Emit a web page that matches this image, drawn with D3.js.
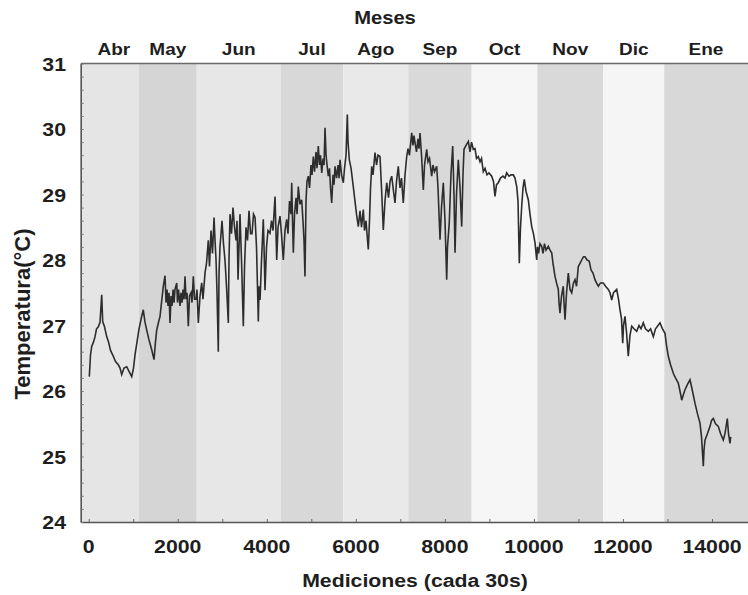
<!DOCTYPE html>
<html>
<head>
<meta charset="utf-8">
<script src="https://cdn.jsdelivr.net/npm/d3@7"></script>
<style>
  html, body { margin: 0; padding: 0; background: #fff; }
  svg { display: block; }
  text { font-family: "Liberation Sans", Arial, sans-serif; font-weight: bold; fill: #1e1e1e; }
</style>
</head>
<body>
<svg id="chart" width="748" height="595"></svg>
<script>
// Month bands (start index of each month, last value closes Ene)
const meses = ["Abr", "May", "Jun", "Jul", "Ago", "Sep", "Oct", "Nov", "Dic", "Ene"];
const limitesMes = [0, 1130, 2426, 4313, 5719, 7179, 8603, 10076, 11559, 12929, 14800];
const coloresMes = ["#e5e5e5", "#d5d5d5", "#e7e7e7", "#d8d8d8", "#e9e9e9",
                    "#d9d9d9", "#f6f6f6", "#d9d9d9", "#f5f5f5", "#d8d8d8"];

const ticksX = [0, 2000, 4000, 6000, 8000, 10000, 12000, 14000];
const ticksY = [24, 25, 26, 27, 28, 29, 30, 31];

// Temperature record: measurement index and °C
const mediciones = [
  13, 40, 67, 108, 142, 175, 216, 254, 292, 314, 355, 404, 445, 490, 553, 602, 665, 703,
  741, 793, 854, 905, 966, 1006, 1040, 1085, 1130, 1190, 1226, 1264, 1303, 1354, 1415,
  1467, 1500, 1527, 1568, 1602, 1635, 1676, 1714, 1737, 1759, 1781, 1804, 1826, 1849,
  1871, 1894, 1916, 1938, 1977, 1994, 2017, 2051, 2073, 2096, 2118, 2141, 2163, 2186,
  2208, 2237, 2264, 2298, 2320, 2350, 2377, 2410, 2432, 2462, 2500, 2538, 2567, 2612,
  2646, 2686, 2713, 2747, 2780, 2815, 2837, 2860, 2882, 2911, 2927, 2949, 2972, 2994,
  3027, 3061, 3095, 3136, 3151, 3174, 3207, 3241, 3275, 3309, 3331, 3354, 3376, 3398,
  3432, 3473, 3500, 3533, 3567, 3601, 3635, 3668, 3702, 3736, 3769, 3810, 3826, 3848,
  3882, 3922, 3938, 3960, 3994, 4027, 4072, 4106, 4140, 4185, 4223, 4252, 4297, 4330,
  4371, 4409, 4447, 4476, 4510, 4544, 4560, 4578, 4596, 4623, 4657, 4680, 4708, 4746,
  4784, 4813, 4836, 4858, 4881, 4903, 4933, 4960, 4993, 5016, 5045, 5072, 5106, 5128,
  5157, 5184, 5207, 5234, 5263, 5286, 5308, 5331, 5353, 5382, 5409, 5432, 5458, 5488,
  5510, 5533, 5567, 5601, 5623, 5645, 5679, 5719, 5746, 5780, 5809, 5825, 5854, 5893,
  5943, 5981, 6015, 6056, 6094, 6128, 6168, 6195, 6229, 6251, 6280, 6307, 6330, 6357,
  6386, 6431, 6465, 6498, 6543, 6577, 6617, 6655, 6694, 6734, 6768, 6806, 6846, 6880,
  6914, 6954, 6992, 7026, 7066, 7105, 7143, 7172, 7205, 7255, 7284, 7307, 7329, 7363,
  7397, 7419, 7442, 7476, 7516, 7543, 7592, 7621, 7655, 7704, 7733, 7767, 7817, 7846,
  7891, 7924, 7965, 8003, 8041, 8059, 8099, 8137, 8176, 8205, 8228, 8261, 8302, 8340,
  8378, 8407, 8430, 8475, 8527, 8565, 8599, 8639, 8677, 8711, 8751, 8790, 8823, 8863,
  8902, 8946, 8991, 9052, 9092, 9126, 9160, 9200, 9249, 9305, 9350, 9389, 9440, 9485,
  9537, 9575, 9614, 9643, 9672, 9699, 9726, 9755, 9784, 9822, 9874, 9912, 9951, 9991,
  10025, 10063, 10081, 10104, 10137, 10175, 10205, 10238, 10272, 10323, 10362, 10400,
  10429, 10474, 10508, 10548, 10564, 10586, 10620, 10660, 10676, 10699, 10733, 10773,
  10811, 10849, 10889, 10923, 10957, 10997, 11035, 11074, 11114, 11148, 11193, 11244,
  11282, 11327, 11372, 11406, 11447, 11496, 11559, 11609, 11671, 11709, 11748, 11788,
  11860, 11901, 11934, 11968, 11995, 12013, 12046, 12080, 12120, 12158, 12197, 12248,
  12309, 12361, 12406, 12457, 12506, 12570, 12620, 12682, 12732, 12788, 12832, 12888,
  12945, 12978, 13019, 13069, 13131, 13180, 13243, 13281, 13320, 13360, 13394, 13450,
  13506, 13562, 13619, 13675, 13731, 13765, 13805, 13821, 13843, 13899, 13956, 13990,
  14030, 14080, 14142, 14192, 14254, 14292, 14326, 14344, 14371, 14405, 14420
];
const temperatura = [
  26.22, 26.55, 26.68, 26.75, 26.83, 26.95, 26.98, 27.05, 27.47, 27.06, 26.98, 26.83, 26.75, 26.62, 26.53, 26.45, 26.40, 26.35,
  26.25, 26.35, 26.37, 26.30, 26.22, 26.35, 26.55, 26.75, 26.95, 27.14, 27.24, 27.05, 26.93, 26.78, 26.63,
  26.48, 26.75, 26.93, 27.05, 27.14, 27.35, 27.60, 27.76, 27.35, 27.55, 27.30, 27.50, 27.04, 27.45,
  27.30, 27.55, 27.35, 27.55, 27.65, 27.35, 27.55, 27.30, 27.50, 27.35, 27.55, 27.40, 27.75, 27.40,
  27.50, 26.99, 27.45, 27.50, 27.35, 27.75, 27.40, 27.40, 27.55, 27.04, 27.45, 27.65, 27.40, 27.80,
  27.95, 28.30, 27.90, 28.45, 28.10, 28.65, 28.30, 28.00, 27.50, 26.60, 27.80, 28.20, 28.40, 28.60,
  28.25, 28.00, 27.60, 27.04, 28.00, 28.70, 28.40, 28.80, 28.50, 28.30, 28.60, 27.70, 28.20, 28.70,
  28.00, 26.99, 27.90, 28.50, 28.30, 28.75, 28.40, 28.40, 28.70, 28.65, 28.20, 27.06, 27.60, 27.39,
  28.00, 28.62, 28.20, 27.54, 28.20, 28.45, 28.41, 28.60, 28.45, 28.97, 28.00, 28.50, 28.67, 28.40,
  28.00, 28.45, 28.62, 28.40, 28.90, 28.70, 29.18, 28.60, 28.11, 28.70, 28.95, 28.70, 29.12, 28.85,
  28.92, 28.60, 28.30, 27.75, 28.90, 29.20, 29.28, 29.10, 29.45, 29.30, 29.58, 29.35, 29.65, 29.40,
  29.74, 29.45, 29.60, 29.33, 29.55, 29.45, 30.02, 29.60, 29.45, 29.28, 29.40, 29.10, 28.87, 29.30,
  29.15, 29.43, 29.25, 29.45, 29.25, 29.53, 29.30, 29.18, 29.40, 29.60, 30.22, 29.80, 29.53, 29.40,
  29.12, 28.90, 28.70, 28.51, 28.75, 28.50, 28.77, 28.45, 28.60, 28.40, 28.16, 28.60, 29.10, 29.43,
  29.30, 29.64, 29.45, 29.60, 29.58, 29.10, 28.46, 28.90, 29.18, 28.95, 29.20, 29.28, 29.05, 28.87,
  29.20, 29.43, 29.10, 29.25, 28.87, 29.30, 29.58, 29.70, 29.60, 29.94, 29.75, 29.90, 29.79, 29.65,
  29.85, 29.70, 29.94, 29.60, 29.07, 29.45, 29.69, 29.50, 29.55, 29.28, 29.45, 29.35, 29.43, 29.10,
  28.31, 28.80, 29.18, 28.60, 27.70, 28.20, 28.57, 29.30, 29.74, 29.00, 28.11, 29.00, 29.53, 29.10,
  28.51, 29.30, 29.69, 29.75, 29.81, 29.65, 29.80, 29.69, 29.70, 29.55, 29.58, 29.50, 29.55, 29.35,
  29.40, 29.30, 29.33, 29.28, 29.20, 28.97, 29.15, 29.18, 29.25, 29.28, 29.25, 29.33, 29.28, 29.30,
  29.30, 29.25, 29.12, 28.90, 27.95, 28.50, 28.82, 29.10, 29.23, 29.05, 28.92, 28.70, 28.51, 28.40,
  28.26, 28.00, 28.20, 28.10, 28.25, 28.21, 28.10, 28.25, 28.15, 28.21, 28.15, 28.11,
  27.95, 27.75, 27.65, 27.55, 27.35, 27.19, 27.45, 27.60, 27.35, 27.09, 27.50, 27.80,
  27.55, 27.50, 27.65, 27.70, 27.60, 27.90, 27.95, 28.00, 28.05, 28.05, 28.00, 27.98,
  27.85, 27.80, 27.70, 27.65, 27.60, 27.65, 27.65, 27.60, 27.55, 27.50, 27.39, 27.50,
  27.55, 27.40, 27.24, 27.10, 26.73, 27.00, 27.14, 26.90, 26.53, 26.85, 26.99, 26.95,
  26.91, 27.00, 26.95, 27.04, 26.95, 26.91, 26.95, 26.83, 26.95, 27.00, 27.04, 26.95,
  26.88, 26.70, 26.53, 26.40, 26.27, 26.20, 26.12, 26.00, 25.86, 25.95, 26.02, 26.10,
  26.17, 26.00, 25.81, 25.65, 25.51, 25.30, 24.85, 25.10, 25.25, 25.35, 25.46, 25.55,
  25.58, 25.50, 25.46, 25.35, 25.25, 25.35, 25.50, 25.58, 25.35, 25.20, 25.30
];

const W = 748, H = 595;
const SX = 1.12; // horizontal text stretch

const svg = d3.select("#chart");
const x = d3.scaleLinear().domain([-180, 15000]).range([80.7, 756.5]);
const y = d3.scaleLinear().domain([24, 31]).range([522, 63.5]);
const [x0, x1] = x.domain();

// Month background bands
const bandas = meses.map((m, i) => ({
  mes: m,
  a: i === 0 ? x0 : limitesMes[i],
  b: i === meses.length - 1 ? x1 : limitesMes[i + 1],
  c: (limitesMes[i] + limitesMes[i + 1]) / 2,
  color: coloresMes[i]
}));

svg.append("g").selectAll("rect").data(bandas).join("rect")
  .attr("x", d => x(d.a))
  .attr("y", y(31))
  .attr("width", d => x(d.b) - x(d.a))
  .attr("height", y(24) - y(31))
  .attr("fill", d => d.color);

// Month names above the plot
svg.append("g").selectAll("text").data(bandas).join("text")
  .attr("transform", d => `translate(${x(d.c)},55) scale(${SX},1)`)
  .attr("text-anchor", "middle")
  .style("font-size", "17px")
  .text(d => d.mes);

svg.append("text")
  .attr("transform", `translate(385,24) scale(${SX},1)`)
  .attr("text-anchor", "middle")
  .style("font-size", "18px")
  .text("Meses");

// Top frame line
svg.append("line")
  .attr("x1", x(x0)).attr("x2", W)
  .attr("y1", y(31)).attr("y2", y(31))
  .attr("stroke", "#6a6a6a").attr("stroke-width", 1.6);

// Temperature trace
const linea = d3.line()
  .x((d, i) => x(mediciones[i]))
  .y(d => y(d));

svg.append("path")
  .datum(temperatura)
  .attr("d", linea)
  .attr("fill", "none")
  .attr("stroke", "#2d2d2d")
  .attr("stroke-width", 1.6)
  .attr("stroke-linejoin", "miter");

// Axes with inward ticks
const minorX = d3.range(0, 15000, 1000);
const gx = svg.append("g").attr("transform", `translate(0,${y(24)})`)
  .call(d3.axisBottom(x).tickValues(minorX).tickSize(-3).tickSizeOuter(0).tickFormat(""));
gx.select(".domain").attr("stroke", "#555").attr("stroke-width", 1.6);
gx.selectAll(".tick line").attr("stroke", "#666");

svg.append("g").selectAll("text").data(ticksX).join("text")
  .attr("transform", d => `translate(${x(d)},553) scale(${SX},1)`)
  .attr("text-anchor", "middle")
  .style("font-size", "19px")
  .text(d => d);

const minorY = d3.range(24, 31.001, 0.2);
const gy = svg.append("g").attr("transform", `translate(${x(x0)},0)`)
  .call(d3.axisLeft(y).tickValues(minorY).tickSize(-3).tickSizeOuter(0).tickFormat(""));
gy.select(".domain").attr("stroke", "#555").attr("stroke-width", 1.6);
gy.selectAll(".tick line").attr("stroke", "#777");

svg.append("g").selectAll("text").data(ticksY).join("text")
  .attr("transform", d => `translate(66,${y(d) + 7}) scale(${SX},1)`)
  .attr("text-anchor", "end")
  .style("font-size", "19px")
  .text(d => d);

// Axis titles
svg.append("text")
  .attr("transform", `translate(415,587) scale(${SX},1)`)
  .attr("text-anchor", "middle")
  .style("font-size", "19px")
  .text("Mediciones (cada 30s)");

svg.append("text")
  .attr("transform", "translate(30,314) rotate(-90)")
  .attr("text-anchor", "middle")
  .style("font-size", "22px")
  .text("Temperatura(°C)");
</script>
</body>
</html>
